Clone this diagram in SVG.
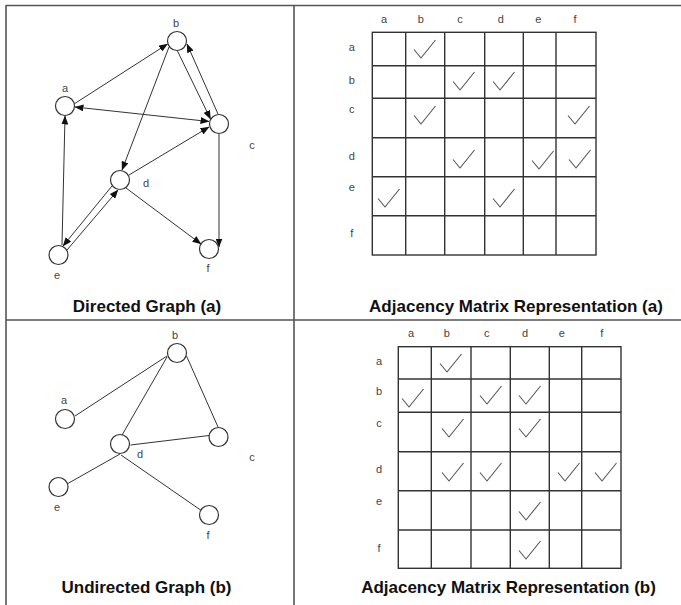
<svg xmlns="http://www.w3.org/2000/svg" width="681" height="605" viewBox="0 0 681 605">
<style>
.frame{stroke:#555;stroke-width:1.6;fill:none}
.node{fill:#fff;stroke:#333;stroke-width:1.2}
.edge{stroke:#333;stroke-width:1;fill:none}
.lbl{font-family:"Liberation Sans",Arial,sans-serif;font-size:11px;fill:#444;text-anchor:middle}
.title{font-family:"Liberation Sans",Arial,sans-serif;font-size:17px;font-weight:bold;fill:#111;text-anchor:middle}
.grid{stroke:#333;stroke-width:1.4;fill:none}
.ck{stroke:#555;stroke-width:1.1;fill:none}
</style>
<defs>
<marker id="arr" markerWidth="9" markerHeight="7" refX="8.5" refY="3.5" orient="auto" markerUnits="userSpaceOnUse">
<path d="M0,0 L9,3.5 L0,7 Z" fill="#111"/>
</marker>
<marker id="arrS" markerWidth="9" markerHeight="7" refX="0.5" refY="3.5" orient="auto" markerUnits="userSpaceOnUse">
<path d="M9,0 L0,3.5 L9,7 Z" fill="#111"/>
</marker>
<path id="ck" d="M0,9.5 L7,18 L21.5,0"/>
</defs>

<g id="frame" class="frame">
<line x1="6" y1="5.5" x2="681" y2="5.5"/>
<line x1="6" y1="5" x2="6" y2="605"/>
<line x1="294" y1="5" x2="294" y2="605"/>
<line x1="6" y1="320" x2="681" y2="320"/>
</g>

<!-- Directed graph (a) -->
<g id="connectors-a" class="edge">
<line x1="74" y1="104" x2="167.5" y2="44" marker-end="url(#arr)"/>
<line x1="75" y1="107" x2="209" y2="121.5" marker-start="url(#arrS)" marker-end="url(#arr)"/>
<line x1="62" y1="245" x2="65" y2="116" marker-end="url(#arr)"/>
<line x1="169" y1="47" x2="122" y2="170" marker-end="url(#arr)"/>
<line x1="177" y1="50" x2="210.5" y2="119" marker-end="url(#arr)"/>
<line x1="218" y1="114" x2="187" y2="44" marker-end="url(#arr)"/>
<line x1="129" y1="175" x2="209" y2="127" marker-end="url(#arr)"/>
<line x1="112" y1="186" x2="63" y2="246" marker-end="url(#arr)"/>
<line x1="67" y1="250" x2="118" y2="190" marker-end="url(#arr)"/>
<line x1="126" y1="188" x2="201" y2="244" marker-end="url(#arr)"/>
<line x1="219" y1="134" x2="219" y2="247" marker-end="url(#arr)"/>
</g>
<g id="a-node-a"><circle class="node" cx="65" cy="106" r="9.5"/><text class="lbl" x="65" y="92">a</text></g>
<g id="a-node-b"><circle class="node" cx="177" cy="41" r="9.5"/><text class="lbl" x="176" y="27">b</text></g>
<g id="a-node-c"><circle class="node" cx="219" cy="124" r="9.5"/><text class="lbl" x="252" y="149">c</text></g>
<g id="a-node-d"><circle class="node" cx="120" cy="180" r="9.5"/><text class="lbl" x="146" y="187">d</text></g>
<g id="a-node-e"><circle class="node" cx="58.5" cy="255" r="9.5"/><text class="lbl" x="57" y="279">e</text></g>
<g id="a-node-f"><circle class="node" cx="209" cy="249" r="9.5"/><text class="lbl" x="208" y="272">f</text></g>
<text class="title" x="147" y="311.5">Directed Graph (a)</text>

<!-- Matrix (a) -->
<g id="matrix-a">
<g class="grid">
<rect x="372.3" y="32.3" width="223.7" height="222.7"/>
<line x1="405.7" y1="32.3" x2="405.7" y2="255"/>
<line x1="444.7" y1="32.3" x2="444.7" y2="255"/>
<line x1="484.7" y1="32.3" x2="484.7" y2="255"/>
<line x1="523.3" y1="32.3" x2="523.3" y2="255"/>
<line x1="556" y1="32.3" x2="556" y2="255"/>
<line x1="372.3" y1="65.7" x2="596" y2="65.7"/>
<line x1="372.3" y1="98.3" x2="596" y2="98.3"/>
<line x1="372.3" y1="137.7" x2="596" y2="137.7"/>
<line x1="372.3" y1="176.7" x2="596" y2="176.7"/>
<line x1="372.3" y1="215.7" x2="596" y2="215.7"/>
</g>
<g class="lbl">
<text x="384" y="23">a</text><text x="420.7" y="23">b</text><text x="460" y="23">c</text>
<text x="500.7" y="23">d</text><text x="538.3" y="23">e</text><text x="575" y="23">f</text>
<text x="351.7" y="50.5">a</text><text x="351.7" y="84">b</text><text x="351.7" y="113">c</text>
<text x="351.7" y="159.5">d</text><text x="351.7" y="190.5">e</text><text x="351.7" y="237">f</text>
</g>
<g class="ck">
<use href="#ck" x="414" y="40"/>
<use href="#ck" x="453" y="72"/>
<use href="#ck" x="493" y="72"/>
<use href="#ck" x="414" y="106"/>
<use href="#ck" x="568" y="106"/>
<use href="#ck" x="453" y="150"/>
<use href="#ck" x="532" y="151"/>
<use href="#ck" x="569" y="150"/>
<use href="#ck" x="378" y="189"/>
<use href="#ck" x="493" y="189"/>
</g>
</g>
<text class="title" x="516" y="311.5">Adjacency Matrix Representation (a)</text>

<!-- Undirected graph (b) -->
<g id="connectors-b" class="edge">
<line x1="75" y1="416" x2="167" y2="356"/>
<line x1="167" y1="357" x2="121.5" y2="436"/>
<line x1="186.5" y1="356" x2="218" y2="427"/>
<line x1="130.5" y1="445" x2="209" y2="435.5"/>
<line x1="120" y1="454" x2="67" y2="484"/>
<line x1="121" y1="455" x2="202" y2="511"/>
</g>
<g id="b-node-a"><circle class="node" cx="65" cy="419" r="9.5"/><text class="lbl" x="64" y="404">a</text></g>
<g id="b-node-b"><circle class="node" cx="177" cy="353" r="9.5"/><text class="lbl" x="175" y="339">b</text></g>
<g id="b-node-c"><circle class="node" cx="218.5" cy="437" r="9.5"/><text class="lbl" x="252" y="461">c</text></g>
<g id="b-node-d"><circle class="node" cx="120" cy="444" r="9.5"/><text class="lbl" x="140" y="458">d</text></g>
<g id="b-node-e"><circle class="node" cx="58.5" cy="487" r="9.5"/><text class="lbl" x="57" y="511">e</text></g>
<g id="b-node-f"><circle class="node" cx="209" cy="515" r="9.5"/><text class="lbl" x="208" y="539">f</text></g>
<text class="title" x="146.5" y="593">Undirected Graph (b)</text>

<!-- Matrix (b) -->
<g id="matrix-b">
<g class="grid">
<rect x="398.3" y="346.7" width="222.7" height="221.6"/>
<line x1="431.3" y1="346.7" x2="431.3" y2="568.3"/>
<line x1="471" y1="346.7" x2="471" y2="568.3"/>
<line x1="510.3" y1="346.7" x2="510.3" y2="568.3"/>
<line x1="549.3" y1="346.7" x2="549.3" y2="568.3"/>
<line x1="581.7" y1="346.7" x2="581.7" y2="568.3"/>
<line x1="398.3" y1="379" x2="621" y2="379"/>
<line x1="398.3" y1="412.3" x2="621" y2="412.3"/>
<line x1="398.3" y1="451.7" x2="621" y2="451.7"/>
<line x1="398.3" y1="490.7" x2="621" y2="490.7"/>
<line x1="398.3" y1="530" x2="621" y2="530"/>
</g>
<g class="lbl">
<text x="411" y="337">a</text><text x="446.7" y="337">b</text><text x="486.7" y="337">c</text>
<text x="525" y="337">d</text><text x="561.7" y="337">e</text><text x="601.7" y="337">f</text>
<text x="379" y="364.5">a</text><text x="379" y="394.5">b</text><text x="379" y="426.5">c</text>
<text x="379" y="473">d</text><text x="379" y="505">e</text><text x="379" y="551.5">f</text>
</g>
<g class="ck">
<use href="#ck" x="440" y="354"/>
<use href="#ck" x="402" y="389"/>
<use href="#ck" x="480" y="386"/>
<use href="#ck" x="519" y="386"/>
<use href="#ck" x="442" y="419"/>
<use href="#ck" x="519" y="419"/>
<use href="#ck" x="442" y="463"/>
<use href="#ck" x="480" y="463"/>
<use href="#ck" x="558" y="463"/>
<use href="#ck" x="595" y="463"/>
<use href="#ck" x="519" y="502"/>
<use href="#ck" x="519" y="541"/>
</g>
</g>
<text class="title" x="508.5" y="593">Adjacency Matrix Representation (b)</text>
</svg>
